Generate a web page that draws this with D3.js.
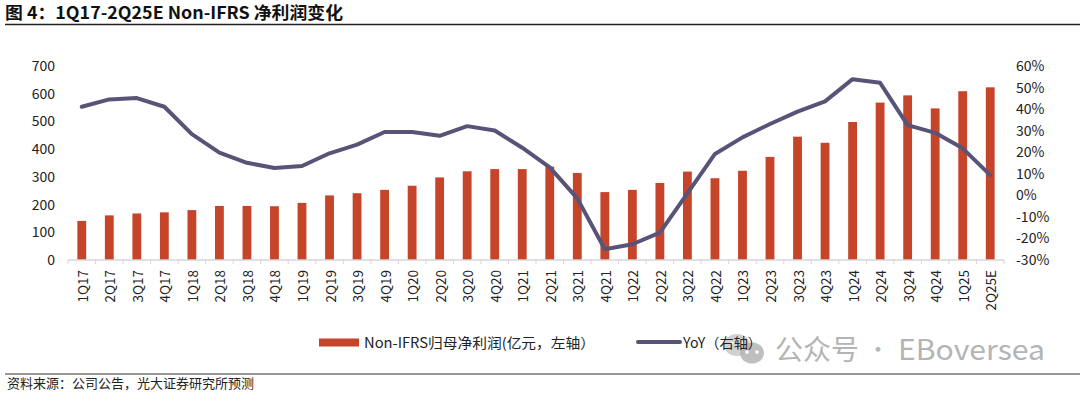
<!DOCTYPE html>
<html><head><meta charset="utf-8">
<script src="https://cdn.jsdelivr.net/npm/d3@7"></script>
<style>
html,body{margin:0;padding:0;background:#fff;}
svg{display:block;font-family:"Noto Sans CJK SC","Noto Sans",sans-serif;}
</style></head>
<body>
<script>
const categories = ["1Q17","2Q17","3Q17","4Q17","1Q18","2Q18","3Q18","4Q18","1Q19","2Q19","3Q19","4Q19","1Q20","2Q20","3Q20","4Q20","1Q21","2Q21","3Q21","4Q21","1Q22","2Q22","3Q22","4Q22","1Q23","2Q23","3Q23","4Q23","1Q24","2Q24","3Q24","4Q24","1Q25","2Q25E"];
const profit = [141,161,168,172,180,195,195,194,206,233,241,253,268,298,320,328,328,337,314,245,253,278,319,295,322,372,445,423,498,568,594,547,609,623];
const yoy = [41.1,44.5,45.1,41.1,28.4,19.8,15.1,12.7,13.6,19.5,23.5,29.4,29.4,27.6,32.1,30.1,22.1,13.0,-1.4,-25.0,-22.7,-17.3,0.9,19.2,26.9,33.1,38.8,43.6,53.9,52.2,32.6,29.0,21.8,9.4];
const leftTicks = [0,100,200,300,400,500,600,700];
const rightTicks = [-30,-20,-10,0,10,20,30,40,50,60];
const title = "图 4：1Q17-2Q25E Non-IFRS 净利润变化";
const legendBar = "Non-IFRS归母净利润(亿元，左轴）";
const legendLine = "YoY（右轴）";
const source = "资料来源：公司公告，光大证券研究所预测";

const W = 1080, H = 394;
const svg = d3.select("body").append("svg").attr("width", W).attr("height", H);

const barColor = "#C5442A", lineColor = "#575478";
const x = d3.scaleBand().domain(categories).range([68, 1004]).paddingInner(0.68).paddingOuter(0.34);
const xb = d3.scaleBand().domain(categories).range([68, 1004]);
const yL = d3.scaleLinear().domain([0, 700]).range([260, 66]);
const yR = d3.scaleLinear().domain([-30, 60]).range([260, 66]);

// title
svg.append("text").attr("x", 5).attr("y", 19).attr("font-size", 17).attr("font-weight", "bold").attr("fill", "#111")
  .attr("textLength", 338).attr("lengthAdjust", "spacingAndGlyphs").text(title);
svg.append("line").attr("x1", 5).attr("x2", 1080).attr("y1", 24.5).attr("y2", 24.5).attr("stroke", "#222").attr("stroke-width", 1.5);

// bars
svg.append("g").selectAll("rect").data(profit).join("rect")
  .attr("x", (d, i) => x(categories[i]))
  .attr("width", x.bandwidth())
  .attr("y", d => yL(d))
  .attr("height", d => yL(0) - yL(d))
  .attr("fill", barColor);

// x axis
const gx = svg.append("g").attr("transform", "translate(0,260)");
gx.append("line").attr("x1", 68).attr("x2", 1004).attr("stroke", "#d6d6d6").attr("stroke-width", 1.5);
gx.selectAll("line.tk").data(categories.concat(["__end"])).join("line").attr("class", "tk")
  .attr("x1", (d, i) => 68 + i * xb.step()).attr("x2", (d, i) => 68 + i * xb.step())
  .attr("y1", 0).attr("y2", 4).attr("stroke", "#d6d6d6").attr("stroke-width", 1);
gx.selectAll("text").data(categories).join("text")
  .attr("transform", d => `translate(${xb(d) + xb.bandwidth() / 2 + 6},10) rotate(-90)`)
  .attr("text-anchor", "end").attr("font-size", 13.5).attr("fill", "#222").text(d => d);

// left axis
svg.append("g").selectAll("text").data(leftTicks).join("text")
  .attr("x", 55).attr("y", d => yL(d) + 5).attr("text-anchor", "end")
  .attr("font-size", 14).attr("fill", "#222").text(d => d);
// right axis
svg.append("g").selectAll("text").data(rightTicks).join("text")
  .attr("x", 1016).attr("y", d => yR(d) + 5).attr("text-anchor", "start")
  .attr("font-size", 14).attr("fill", "#222").text(d => d + "%");

// line
const line = d3.line().x((d, i) => xb(categories[i]) + xb.bandwidth() / 2).y(d => yR(d));
svg.append("path").datum(yoy).attr("d", line).attr("fill", "none")
  .attr("stroke", lineColor).attr("stroke-width", 4).attr("stroke-linecap", "round").attr("stroke-linejoin", "round");

// watermark (drawn before legend so legend text sits on top)
const wm = svg.append("g");
wm.append("ellipse").attr("cx", 737).attr("cy", 345).attr("rx", 13).attr("ry", 11).attr("fill", "#c4c4c4").attr("opacity", 0.8);
wm.append("ellipse").attr("cx", 752).attr("cy", 353).attr("rx", 12).attr("ry", 10.5).attr("fill", "#b4b4b4").attr("opacity", 0.85);
[[747,352],[757,352]].forEach(p => wm.append("circle").attr("cx", p[0]).attr("cy", p[1]).attr("r", 1.8).attr("fill", "#fff"));
[[732,343],[742,343]].forEach(p => wm.append("circle").attr("cx", p[0]).attr("cy", p[1]).attr("r", 1.6).attr("fill", "#fff"));
wm.append("text").attr("x", 775).attr("y", 360).attr("font-size", 28).attr("fill", "#b4b4b4").text("公众号");
wm.append("text").attr("x", 878).attr("y", 357).attr("font-size", 22).attr("text-anchor", "middle").attr("fill", "#b4b4b4").text("·");
wm.append("text").attr("x", 898).attr("y", 360).attr("font-size", 28).attr("fill", "#b4b4b4")
  .attr("textLength", 147).attr("lengthAdjust", "spacingAndGlyphs").text("EBoversea");

// legend
svg.append("rect").attr("x", 319).attr("y", 338.5).attr("width", 40).attr("height", 8).attr("fill", barColor);
svg.append("text").attr("x", 364).attr("y", 347.5).attr("font-size", 14).attr("fill", "#222")
  .attr("textLength", 231).attr("lengthAdjust", "spacingAndGlyphs").text(legendBar);
svg.append("line").attr("x1", 638).attr("x2", 680).attr("y1", 342).attr("y2", 342).attr("stroke", lineColor).attr("stroke-width", 4).attr("stroke-linecap", "round");
svg.append("text").attr("x", 683).attr("y", 347.5).attr("font-size", 14).attr("fill", "#222")
  .attr("textLength", 79).attr("lengthAdjust", "spacingAndGlyphs").text(legendLine);

// footer
svg.append("line").attr("x1", 5).attr("x2", 1080).attr("y1", 374).attr("y2", 374).attr("stroke", "#333").attr("stroke-width", 1.2);
svg.append("text").attr("x", 7).attr("y", 388).attr("font-size", 13).attr("fill", "#222").text(source);
</script>
</body></html>
